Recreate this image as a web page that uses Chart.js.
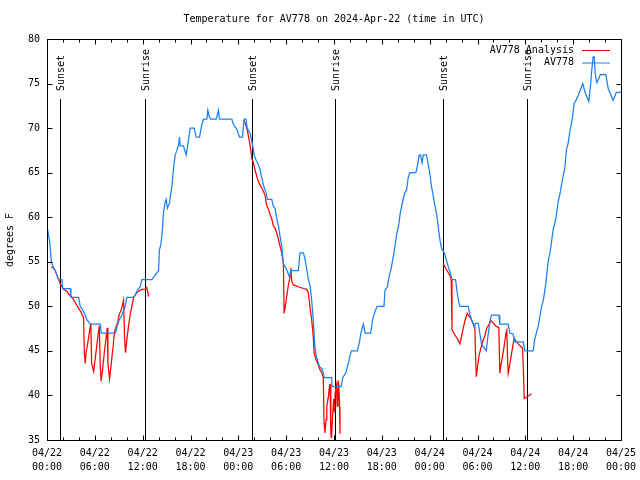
<!DOCTYPE html>
<html>
<head>
<meta charset="utf-8">
<script src="https://cdn.jsdelivr.net/npm/chart.js@4/dist/chart.umd.min.js"></script>
<style>
  html, body { margin: 0; padding: 0; background: #fff; }
  #wrap { width: 640px; height: 480px; }
</style>
</head>
<body>
<div id="wrap"><canvas id="myChart" width="640" height="480"></canvas></div>
<script>
// hours since 04/22 00:00 UTC
var TITLE = "Temperature for AV778 on 2024-Apr-22 (time in UTC)";
var Y_LABEL = "degrees F";

var tickDays  = ["04/22","04/22","04/22","04/22","04/23","04/23","04/23","04/23","04/24","04/24","04/24","04/24","04/25"];
var tickTimes = ["00:00","06:00","12:00","18:00","00:00","06:00","12:00","18:00","00:00","06:00","12:00","18:00","00:00"];

var sunHours  = [1.58, 12.23, 25.66, 36.15, 49.7, 60.23];
var sunLabels = ["Sunset","Sunrise","Sunset","Sunrise","Sunset","Sunrise"];

// AV778 (station obs)
var obsHours = [0,0.29,0.41,0.54,0.83,1.04,1.46,1.88,1.96,2.92,3.0,3.96,4.17,4.47,4.8,5.0,5.43,6.68,6.8,8.56,
  8.77,9.06,9.39,9.81,10.02,10.86,11.07,11.4,11.69,11.9,13.15,13.57,13.99,14.1,14.3,14.5,14.6,14.8,14.95,15.1,
  15.37,15.5,15.66,15.87,16.08,16.29,16.5,16.62,16.7,17.12,17.46,17.75,17.96,18.46,18.71,19.13,19.42,19.63,20.05,20.17,
  20.38,20.55,21.22,21.51,21.63,23.18,23.39,23.81,24.14,24.52,24.72,24.97,25.1,25.48,25.81,25.98,26.23,26.52,26.73,26.94,
  27.15,27.48,27.65,28.19,28.4,28.6,28.82,29.03,29.24,29.45,29.65,30.07,30.4,30.57,31.53,31.74,32.16,32.37,32.79,33.0,
  33.2,33.4,33.6,33.8,34.2,34.5,34.8,35.71,35.75,36.9,37.1,37.5,37.8,38.0,38.2,38.93,39.2,39.35,39.68,39.9,
  40.6,40.85,41.14,41.4,42.27,42.4,42.7,42.9,43.2,43.52,43.88,44.1,44.3,44.5,44.7,44.9,45.1,45.3,45.5,46.27,
  46.45,46.7,46.85,47.05,47.2,47.6,47.95,48.24,48.66,48.87,49.08,49.3,49.5,49.83,50.1,50.35,50.6,50.8,51.25,51.4,
  51.6,51.8,52.84,53.05,53.25,53.6,53.75,54.1,54.3,54.5,54.7,55.1,55.3,55.6,55.76,56.7,56.8,57.85,58.06,58.45,
  58.7,59.73,59.94,60.98,61.2,61.6,62.0,62.3,62.57,62.86,63.15,63.49,63.8,64.1,64.4,64.74,64.95,65.16,65.37,65.58,
  65.9,66.12,66.3,66.6,66.83,67.0,67.2,67.5,67.96,68.2,68.3,68.5,68.65,68.77,68.98,69.2,69.4,70.1,70.4,70.7,
  71.0,71.2,71.4,72];
var obsTemps = [59,57.5,56.5,55,54.3,54,53,53,52,52,51,51,50,49.6,49,48.5,48,48,47,47,
  47.7,48.5,49,50,51,51,51.3,51.9,52.2,53,53,53.5,54,56.3,57,58.9,60.4,61.6,62,61,
  61.6,62.5,63.4,65.5,67,67.5,68.1,69,68,68,67,68.7,70,70,69,69,70.4,71,71,72,
  71.2,71,71,72,71,71,70.4,69.9,69,69,71,71,70,69.4,68,67,66.4,65.9,65.3,64.4,
  63.6,62.7,62,62,61.2,61,59.9,59,57.8,56.7,54.8,54.1,53.3,54,54,56,56,55.3,53,52.3,
  50.7,48.5,45.5,44.3,43.2,43,42,42,41,41,42,42.6,43.6,44.5,45,45,46,46.9,48,47,
  47,48.5,49.4,50,50,51.8,52.2,53.3,54.4,56,58.2,59,60.4,61.3,62.1,62.8,63,64.4,65,65,
  65.7,67,67,66.1,67,67,65.3,63.4,61.3,60.4,58.9,57.4,56.5,56,55.2,54.4,53.7,53,53,51.9,
  50.7,50,50,49.1,48.5,47.6,48.1,48.1,46.9,45.8,45.5,45,46.6,48.5,49,49,48,48,47,46.9,
  46,46,45,45,46.4,47.7,49.8,50.9,52.6,55,56.35,58.6,59.7,61.6,62.9,64.6,65.5,67.6,68.3,69.6,
  71.1,72.8,73,73.6,74.1,74.5,75,74,73,75,76.2,78,78,76,75.1,75.5,76,76,74.4,73.8,
  73.1,73.5,74,74];

// AV778 Analysis (null = gap)
var anaHours = [0.54,0.83,1.04,1.25,1.46,1.67,2.08,2.5,2.8,3.13,3.55,3.96,4.3,4.59,4.68,4.8,4.9,5.1,5.3,5.5,
  5.6,5.85,5.97,6.18,6.38,6.56,6.68,6.8,6.97,7.22,7.43,7.56,7.64,7.85,8.06,8.27,8.48,8.64,8.89,9.06,
  9.27,9.48,9.6,9.73,9.85,10.02,10.23,10.44,10.65,10.86,11.15,11.48,11.9,12.3,12.5,12.62,12.74,13,
  24.72,24.85,25.06,25.27,25.48,25.69,25.9,26.1,26.31,26.52,26.73,26.94,27.15,27.36,27.57,27.78,27.99,28.2,28.4,28.6,
  28.82,29.03,29.24,29.45,29.65,29.74,29.86,30.07,30.28,30.49,30.6,30.7,30.9,31.53,32.16,32.58,32.79,33.0,33.2,33.4,
  33.5,33.7,34.0,34.24,34.45,34.66,34.75,34.87,35.0,35.1,35.3,35.4,35.5,35.6,35.68,35.8,35.95,36.05,36.15,36.3,
  36.4,36.5,36.6,36.7,36.75,40,
  49.7,50.1,50.4,50.6,50.7,50.8,51.16,51.58,51.8,52.08,52.4,52.7,52.95,53.25,53.46,53.67,53.75,53.85,54.0,54.2,
  54.5,54.7,54.93,55.14,55.4,55.68,56.0,56.3,56.68,56.8,56.9,57.13,57.35,57.56,57.68,57.77,57.85,58.0,58.2,58.4,
  58.6,58.9,59.3,59.65,59.77,59.86,60.15,60.48,60.77];
var anaTemps = [54.4,54.3,54,53.5,53,52.5,51.9,51.7,51.3,51,50.4,49.8,49.3,48.7,44.8,43.6,44.8,45.8,47,48.1,
  43.6,42.7,43.6,45.1,46.6,47.8,43.3,41.6,42.9,45.1,46.6,47.6,43.6,41.9,43.6,45.3,47.2,47.6,48.3,49.1,
  49.5,50.2,50.7,46.6,44.8,46.3,47.8,49.1,50,51,51.4,51.7,51.9,51.9,52.1,51.7,51.1,null,
  70.9,70.56,70,69.1,68,66.6,66.1,65.3,64.6,64,63.6,63.3,62.9,62.4,61.3,60.9,60.3,59.8,59,58.8,
  58.2,57.5,56.7,56,54.8,49.2,49.8,51.1,52.4,53.3,54.3,52.8,52.4,52.2,52,51.9,51.5,49.8,48.5,46.6,
  44.8,44.1,43.5,42.9,42.6,42,36.9,35.8,37.3,38.8,39.9,40.8,41.3,35.7,35.2,37.3,39.6,38.1,40.3,41.1,
  38.8,41.7,41.2,38.7,35.7,null,
  54.8,54.1,53.7,53.3,53,47.35,46.8,46.2,45.8,47,48.3,49.2,48.9,48.5,48.1,47.6,44.7,42.1,43.2,44.5,
  45.6,46.2,46.7,47.5,47.9,48.4,48.1,47.8,47.6,42.5,43.2,44.3,45.6,46.9,47.3,44,42.5,43.2,44.3,45.4,
  46.4,46,45.6,45.3,42.5,39.66,39.8,40,40.2];

var FONT = '10px "DejaVu Sans Mono"';
var RED = "#ff0000";
var BLUE = "#1a80f0";

function toPoints(xs, ys){
	return xs.map(function(x, i){ return {x: x, y: ys[i]}; });
}

var gnuFrame = {
	id: "gnuFrame",
	beforeDatasetsDraw: function(chart){
		var ctx = chart.ctx, xs = chart.scales.x, ys = chart.scales.y;
		var area = chart.chartArea;
		ctx.save();
		ctx.strokeStyle = "#000";
		ctx.lineWidth = 1;
		ctx.fillStyle = "#000";
		ctx.font = FONT;
		sunHours.forEach(function(h, i){
			var px = Math.round(xs.getPixelForValue(h)) + 0.5;
			ctx.beginPath();
			ctx.moveTo(px, Math.round(ys.getPixelForValue(73.25)));
			ctx.lineTo(px, area.bottom);
			ctx.stroke();
			ctx.save();
			ctx.translate(px + 1, Math.round(ys.getPixelForValue(74.15)));
			ctx.rotate(-Math.PI/2);
			ctx.textAlign = "left";
			ctx.textBaseline = "middle";
			ctx.fillText(sunLabels[i], 0, 0);
			ctx.restore();
		});
		ctx.restore();
	},
	afterDraw: function(chart){
		var ctx = chart.ctx, xs = chart.scales.x, ys = chart.scales.y;
		var a = chart.chartArea;
		var L = Math.round(a.left) + 0.5, R = Math.round(a.right) + 0.5;
		var T = Math.round(a.top) + 0.5, B = Math.round(a.bottom) + 0.5;
		ctx.save();
		ctx.strokeStyle = "#000";
		ctx.lineWidth = 1;
		ctx.strokeRect(L, T, R - L, B - T);
		ctx.beginPath();
		// x ticks: major every 6h, minor every 2h, inward, mirrored on top
		for(var h = 0; h <= 72; h += 2){
			var px = Math.round(xs.getPixelForValue(h)) + 0.5;
			var len = (h % 6 == 0) ? 5 : 3;
			ctx.moveTo(px, B); ctx.lineTo(px, B - len);
			ctx.moveTo(px, T); ctx.lineTo(px, T + len);
		}
		for(var v = 35; v <= 80; v += 5){
			var py = Math.round(ys.getPixelForValue(v)) + 0.5;
			ctx.moveTo(L, py); ctx.lineTo(L + 5, py);
			ctx.moveTo(R, py); ctx.lineTo(R - 5, py);
		}
		ctx.stroke();

		ctx.fillStyle = "#000";
		ctx.font = FONT;
		// title, centred over the plot area like gnuplot does
		ctx.textAlign = "center";
		ctx.textBaseline = "middle";
		ctx.fillText(TITLE, (a.left + a.right) / 2, 19);
		// y label
		ctx.save();
		ctx.translate(10, 240);
		ctx.rotate(-Math.PI/2);
		ctx.fillText(Y_LABEL, 0, 0);
		ctx.restore();

		// legend, gnuplot style
		var ly = 50;
		chart.data.datasets.slice().sort(function(p, q){ return q.order - p.order; }).forEach(function(ds){
			ctx.fillStyle = "#000";
			ctx.textAlign = "right";
			ctx.fillText(ds.label, 574, ly);
			ctx.strokeStyle = ds.borderColor;
			ctx.beginPath();
			ctx.moveTo(582, ly + 0.5);
			ctx.lineTo(610, ly + 0.5);
			ctx.stroke();
			ly += 12.5;
		});
		ctx.restore();
	}
};

document.addEventListener("DOMContentLoaded", function(){
	var data = {
		datasets: [
		{
			label: "AV778 Analysis",
			data: toPoints(anaHours, anaTemps),
			borderColor: RED,
			borderWidth: 1.25,
			pointRadius: 0,
			tension: 0,
			spanGaps: false,
			order: 1
		},
		{
			label: "AV778",
			data: toPoints(obsHours, obsTemps),
			borderColor: BLUE,
			borderWidth: 1.25,
			pointRadius: 0,
			tension: 0,
			order: 0
		}
		]
	};

	var config = {
		type: "line",
		data: data,
		options: {
			responsive: false,
			animation: false,
			events: [],
			layout: { padding: { top: 39, right: 19, bottom: 0, left: 0 } },
			plugins: {
				legend: { display: false },
				title: { display: false },
				tooltip: { enabled: false }
			},
			scales: {
				x: {
					type: "linear",
					min: 0,
					max: 72,
					grid: { display: false, drawTicks: false },
					border: { display: false },
					afterFit: function(s){
						s.height = 40;
						// plot box is fixed like gnuplot's, don't let labels squeeze it
						s.paddingLeft = 0;
						s.paddingRight = 0;
					},
					ticks: {
						stepSize: 6,
						autoSkip: false,
						maxRotation: 0,
						padding: 6,
						color: "#000",
						font: { family: "DejaVu Sans Mono", size: 10, lineHeight: 1.4 },
						callback: function(value){
							var i = Math.round(value / 6);
							return [tickDays[i], tickTimes[i]];
						}
					}
				},
				y: {
					type: "linear",
					min: 35,
					max: 80,
					grid: { display: false, drawTicks: false },
					border: { display: false },
					afterFit: function(s){ s.width = 47; s.paddingTop = 0; s.paddingBottom = 0; },
					ticks: {
						stepSize: 5,
						padding: 7,
						color: "#000",
						font: { family: "DejaVu Sans Mono", size: 10 }
					}
				}
			}
		},
		plugins: [gnuFrame]
	};

	new Chart(document.getElementById("myChart"), config);
});
</script>
</body>
</html>
